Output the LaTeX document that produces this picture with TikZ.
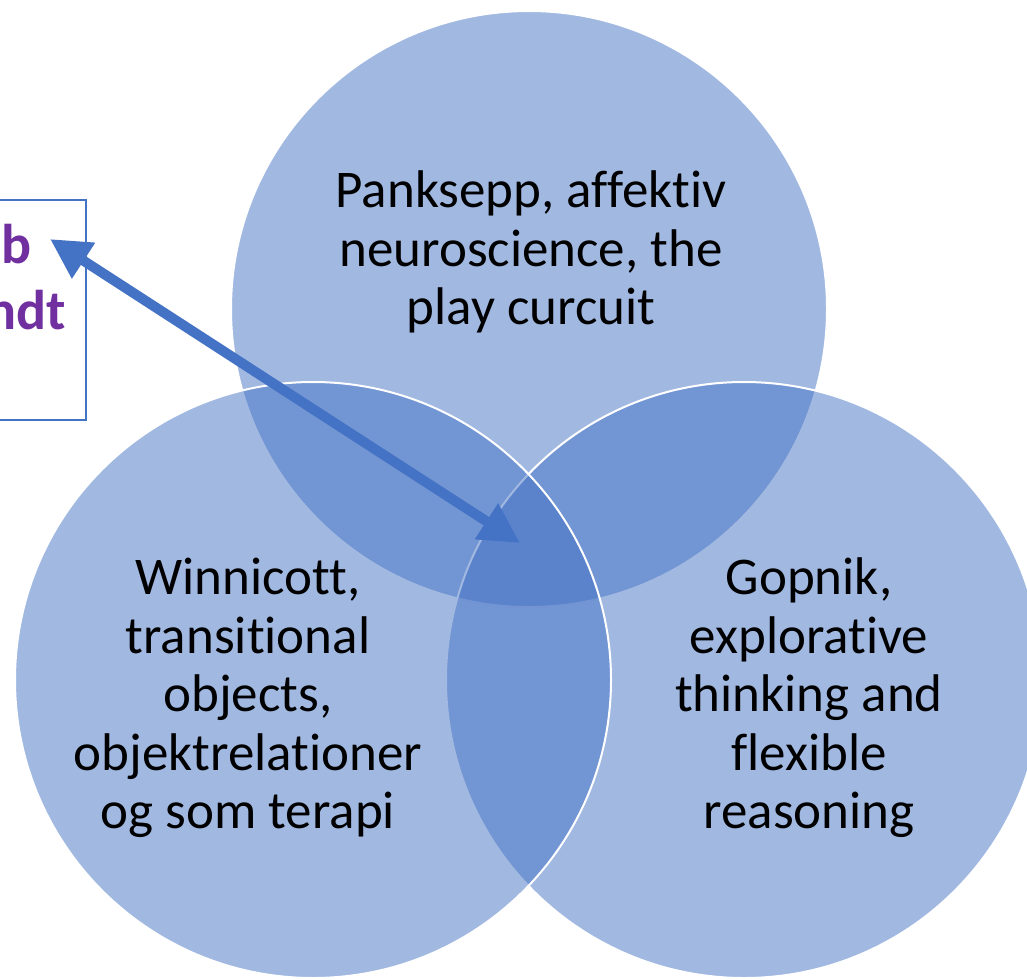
\documentclass[tikz,border=0pt]{standalone}
\usepackage{fontspec}
\setmainfont{Carlito}[Ligatures=NoCommon]
\usetikzlibrary{arrows.meta}
\definecolor{accent}{HTML}{4472C4}
\definecolor{boxpurple}{HTML}{7030A0}
\tikzset{
  venn/.style={circle, minimum size=596pt, inner sep=0pt, fill=accent, fill opacity=0.5, draw=white, draw opacity=1, line width=2pt},
  circtext/.style={align=center, text=black, text opacity=1, font=\fontsize{53}{58.5}\selectfont, inner sep=0pt},
  boxtext/.style={text=boxpurple, font=\fontsize{56}{66}\selectfont\bfseries, inner sep=0pt},
  frame/.style={draw=accent, line width=1.5pt},
  link/.style={draw=accent, line width=10pt, {Triangle[length=40pt,width=40pt]}-{Triangle[length=40pt,width=40pt]}}
}
\begin{document}
\begin{tikzpicture}[x=1pt,y=-1pt]
\useasboundingbox (0,0) rectangle (1027,979);
\clip (0,0) rectangle (1027,979);
% circles: top, right, left (drawing order)
\node[venn] (ctop) at (529,309) {};
\node[venn] (cright) at (744,680) {};
\node[venn] (cleft) at (313,680) {};
% texts
\node[circtext] (ttop) at (531,252) {Panksepp, affektiv\\neuroscience, the\\play curcuit};
\node[circtext] (tleft) at (248,698) {Winnicott,\\transitional\\objects,\\objektrelationer\\og som terapi};
\node[circtext] (tright) at (809,698) {Gopnik,\\explorative\\thinking and\\flexible\\reasoning};
% left box (cut off)
\node[frame, minimum width=100pt, minimum height=220pt, inner sep=0pt] (leftbox) at (36,310) {};
\node[boxtext, anchor=base east] (bline1) at (32,263) {b};
\node[boxtext, anchor=base east] (bline2) at (66,329) {ndt};
% arrow
\coordinate (boxtip) at (50,239);
\coordinate (centertip) at (520,543);
\draw[link] (boxtip) -- (centertip);
\end{tikzpicture}
\end{document}
